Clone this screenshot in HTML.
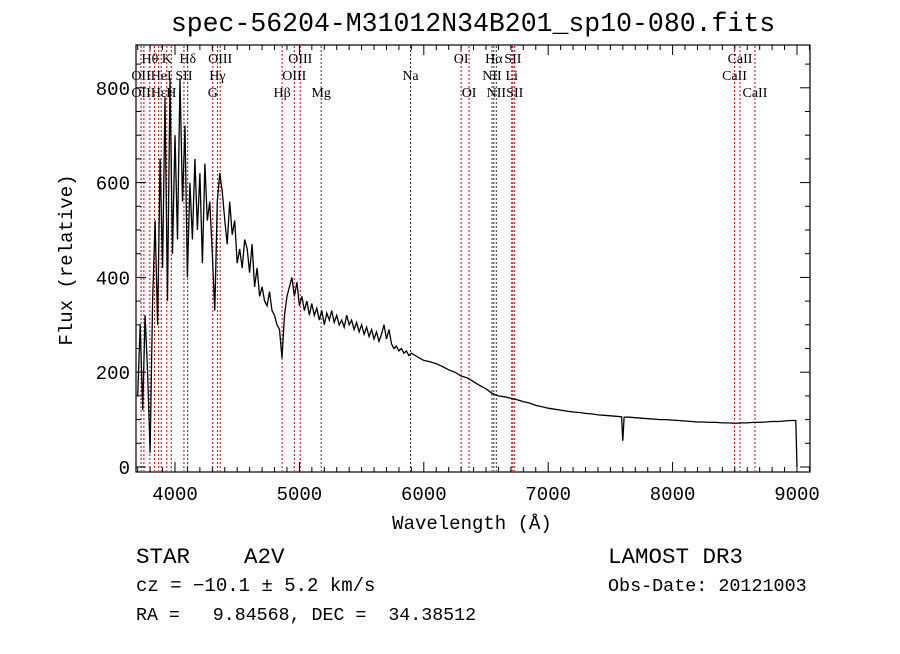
<!DOCTYPE html>
<html><head><meta charset="utf-8"><style>
body{margin:0;background:#fff}
svg text{font-family:"Liberation Mono",monospace;fill:#000}
.ll{font-family:"Liberation Serif",serif;font-size:14px}
</style></head><body>
<svg id="c" width="900" height="649">
<text x="473" y="31" font-size="26.5" text-anchor="middle">spec-56204-M31012N34B201_sp10-080.fits</text>
<g id="lines"></g>
<path id="spec" fill="none" stroke="#000" stroke-width="1.3"></path>
<rect x="136" y="45" width="674" height="427" fill="none" stroke="#000" stroke-width="1.2"/>
<g id="ax"></g>
<text x="472" y="529" font-size="19" text-anchor="middle">Wavelength (Å)</text>
<text transform="translate(72,260) rotate(-90)" font-size="19" text-anchor="middle">Flux (relative)</text>
<text x="136" y="563" font-size="22.5" xml:space="preserve">STAR    A2V</text>
<text x="608" y="563" font-size="22.5">LAMOST DR3</text>
<text x="136" y="591" font-size="19">cz = −10.1 ± 5.2 km/s</text>
<text x="608" y="591" font-size="18.4">Obs-Date: 20121003</text>
<text x="136" y="620" font-size="18.3" xml:space="preserve">RA =   9.84568, DEC =  34.38512</text>
</svg>
<script>
const wl=[3700,3720,3740,3760,3780,3800,3820,3840,3860,3880,3900,3920,3940,3960,3980,4000,4020,4040,4060,4080,4100,4120,4140,4160,4180,4200,4220,4240,4260,4280,4300,4320,4340,4360,4380,4400,4420,4440,4460,4480,4500,4520,4540,4560,4580,4600,4620,4640,4660,4680,4700,4720,4740,4760,4780,4800,4820,4840,4860,4880,4900,4920,4940,4960,4980,5000,5020,5040,5060,5080,5100,5120,5140,5160,5180,5200,5220,5240,5260,5280,5300,5320,5340,5360,5380,5400,5420,5440,5460,5480,5500,5520,5540,5560,5580,5600,5620,5640,5660,5680,5700,5720,5740,5760,5780,5800,5820,5840,5860,5880,5900,5950,6000,6050,6100,6150,6200,6250,6300,6350,6400,6450,6500,6550,6600,6650,6700,6750,6800,6850,6900,6950,7000,7050,7100,7150,7200,7250,7300,7350,7400,7450,7500,7550,7590,7600,7610,7650,7700,7750,7800,7850,7900,7950,8000,8050,8100,8150,8200,8250,8300,8350,8400,8450,8500,8550,8600,8650,8700,8750,8800,8850,8900,8950,8990,9000];
const flux=[150,300,120,320,200,30,350,520,300,650,420,780,350,820,450,700,480,820,560,720,400,600,480,650,500,620,430,640,520,560,450,330,560,620,580,520,470,560,490,520,430,460,420,480,460,410,470,380,420,360,380,350,340,370,330,320,300,290,230,320,360,380,400,360,390,340,360,330,350,320,345,320,335,310,330,300,325,310,330,305,320,300,310,295,320,300,310,290,305,285,300,280,295,275,290,270,285,265,280,300,270,290,260,250,255,245,250,240,245,235,240,232,225,222,218,212,205,200,192,188,180,172,165,155,150,148,145,142,138,135,130,127,124,122,120,118,116,115,113,112,110,109,108,107,106,55,105,105,104,103,102,101,100,100,99,98,97,96,95,95,94,94,93,93,92,93,93,94,94,95,96,96,97,98,98,0];
const lineWl=[3727,3750,3798,3835,3869,3889,3934,3970,4072,4102,4304,4341,4363,4861,4959,5007,5175,5893,6300,6364,6548,6563,6583,6707,6716,6731,8498,8542,8662];
const lineColor=["r","r","r","r","r","r","r","r","r","k","r","r","r","r","r","r","k","k","r","r","k","k","k","r","r","r","r","r","r"];
const labels=[["Hθ",3798,0],["K",3934,0],["Hδ",4102,0],["OIII",4363,0],["OIII",5007,0],["OI",6300,0],["Hα",6563,0],["SII",6716,0],["CaII",8542,0],
["OII",3727,1],["HeI",3889,1],["SII",4072,1],["Hγ",4341,1],["OIII",4959,1],["Na",5893,1],["NII",6548,1],["Li",6707,1],["CaII",8498,1],
["OII",3727,2],["Hε",3870,2],["H",3970,2],["G",4304,2],["Hβ",4861,2],["Mg",5175,2],["OI",6364,2],["NII",6583,2],["SII",6731,2],["CaII",8662,2]];
const yTicks=[0,200,400,600,800];
const xTicks=[4000,5000,6000,7000,8000,9000];
const NS="http://www.w3.org/2000/svg";
const X=w=>175+(w-4000)*0.1244, Y=f=>467-f*0.474;
function mk(t,a,p){const e=document.createElementNS(NS,t);for(const k in a)e.setAttribute(k,a[k]);p.appendChild(e);return e;}
const L=document.getElementById('lines');
lineWl.forEach((w,i)=>{const e=mk('line',{x1:X(w),x2:X(w),y1:46,y2:471,stroke:lineColor[i]=="r"?"#c00000":"#333","stroke-width":1,"stroke-dasharray":"2,2"},L);

});
labels.forEach(l=>{const t=mk('text',{x:X(l[1]),y:63+l[2]*17,"text-anchor":"middle",class:"ll"},L);t.textContent=l[0];

});
let d="";wl.forEach((w,i)=>{d+=(i?"L":"M")+X(w).toFixed(1)+","+Y(flux[i]).toFixed(1);});
document.getElementById('spec').setAttribute('d',d);
const A=document.getElementById('ax');
for(let w=3700;w<=9100;w+=100){const maj=w%1000==0,len=maj?10:5;
mk('line',{x1:X(w),x2:X(w),y1:472,y2:472-len,stroke:"#000"},A);mk('line',{x1:X(w),x2:X(w),y1:45,y2:45+len,stroke:"#000"},A);}
for(let f=0;f<=850;f+=50){const maj=f%200==0,len=maj?10:5;
mk('line',{x1:136,x2:136+len,y1:Y(f),y2:Y(f),stroke:"#000"},A);mk('line',{x1:810,x2:810-len,y1:Y(f),y2:Y(f),stroke:"#000"},A);}
xTicks.forEach(v=>{const t=mk('text',{x:X(v),y:500,"font-size":19,"text-anchor":"middle"},A);t.textContent=v;

});
yTicks.forEach(v=>{const t=mk('text',{x:130,y:Y(v)+7,"font-size":19,"text-anchor":"end"},A);t.textContent=v;

});
</script>
</body></html>
